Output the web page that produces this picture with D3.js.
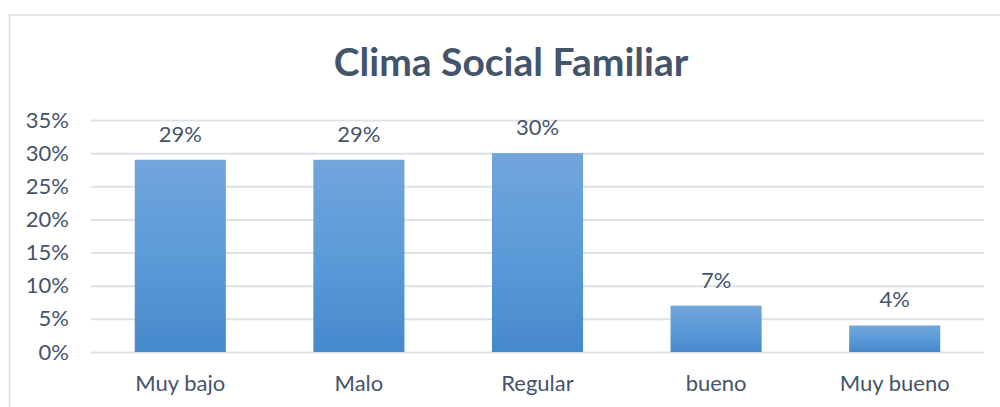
<!DOCTYPE html>
<html lang="es">
  <head>
    <title>Clima Social Familiar</title>
    <meta charset="utf-8">
    <style>
      body { margin: 0; background: #fff; }
      svg { display: block; }
    </style>
  </head>
  <body>
<svg width="1000" height="407"></svg>
<script src="https://d3js.org/d3.v7.min.js"></script>
<script>
var categories = ["Muy bajo", "Malo", "Regular", "bueno", "Muy bueno"];
var values = [0.29, 0.29, 0.30, 0.07, 0.04];
var valueLabels = ["29%", "29%", "30%", "7%", "4%"];
var yTicks = [0, 0.05, 0.10, 0.15, 0.20, 0.25, 0.30, 0.35];

var svg = d3.select("svg"),
    textColor = "#44546a",
    font = "Lato, 'Open Sans', sans-serif",
    fontSize = "22px";

// chart frame
svg.append("rect")
    .attr("x", 9.5).attr("y", 15)
    .attr("width", 1010).attr("height", 420)
    .attr("fill", "none")
    .attr("stroke", "#dfe3e8")
    .attr("stroke-width", 2);

var x = d3.scaleBand()
    .domain(categories)
    .range([91, 984])
    .paddingInner(0.49)
    .paddingOuter(0.245);

var y = d3.scaleLinear()
    .domain([0, 0.35])
    .range([352, 120]);

var grad = svg.append("defs").append("linearGradient")
    .attr("id", "barGrad")
    .attr("x1", 0).attr("y1", 0).attr("x2", 0).attr("y2", 1);
grad.append("stop").attr("offset", "0%").attr("stop-color", "#72a6dc");
grad.append("stop").attr("offset", "50%").attr("stop-color", "#5b9bd8");
grad.append("stop").attr("offset", "100%").attr("stop-color", "#4689cb");

// gridlines + y labels
var yAxis = svg.append("g")
    .attr("transform", "translate(91,0)")
    .call(d3.axisLeft(y).tickValues(yTicks).tickFormat(d3.format(".0%")).tickSize(-893).tickPadding(22));
yAxis.select(".domain").remove();
yAxis.selectAll("line").attr("stroke", "#dde2e8").attr("stroke-width", 2);
yAxis.selectAll("text")
    .attr("fill", textColor)
    .style("font-family", font)
    .style("font-size", fontSize);

// bars
svg.append("g").selectAll("rect")
    .data(values)
    .join("rect")
    .attr("x", function(d, i) { return x(categories[i]); })
    .attr("y", function(d) { return y(d); })
    .attr("width", x.bandwidth())
    .attr("height", function(d) { return y(0) - y(d); })
    .attr("fill", "url(#barGrad)");

// value labels
svg.append("g").selectAll("text")
    .data(values)
    .join("text")
    .attr("x", function(d, i) { return x(categories[i]) + x.bandwidth() / 2; })
    .attr("y", function(d) { return y(d) - 18; })
    .attr("text-anchor", "middle")
    .attr("fill", textColor)
    .style("font-family", font)
    .style("font-size", fontSize)
    .text(function(d, i) { return valueLabels[i]; });

// x labels
var xAxis = svg.append("g")
    .attr("transform", "translate(0,352)")
    .call(d3.axisBottom(x).tickSize(0).tickPadding(23));
xAxis.select(".domain").remove();
xAxis.selectAll("text")
    .attr("fill", textColor)
    .style("font-family", font)
    .style("font-size", fontSize);

// title
svg.append("text")
    .attr("x", 511)
    .attr("y", 76)
    .attr("text-anchor", "middle")
    .attr("fill", textColor)
    .style("font-family", font)
    .style("font-weight", "bold")
    .style("font-size", "39px")
    .text("Clima Social Familiar");
</script>
  </body>
</html>
